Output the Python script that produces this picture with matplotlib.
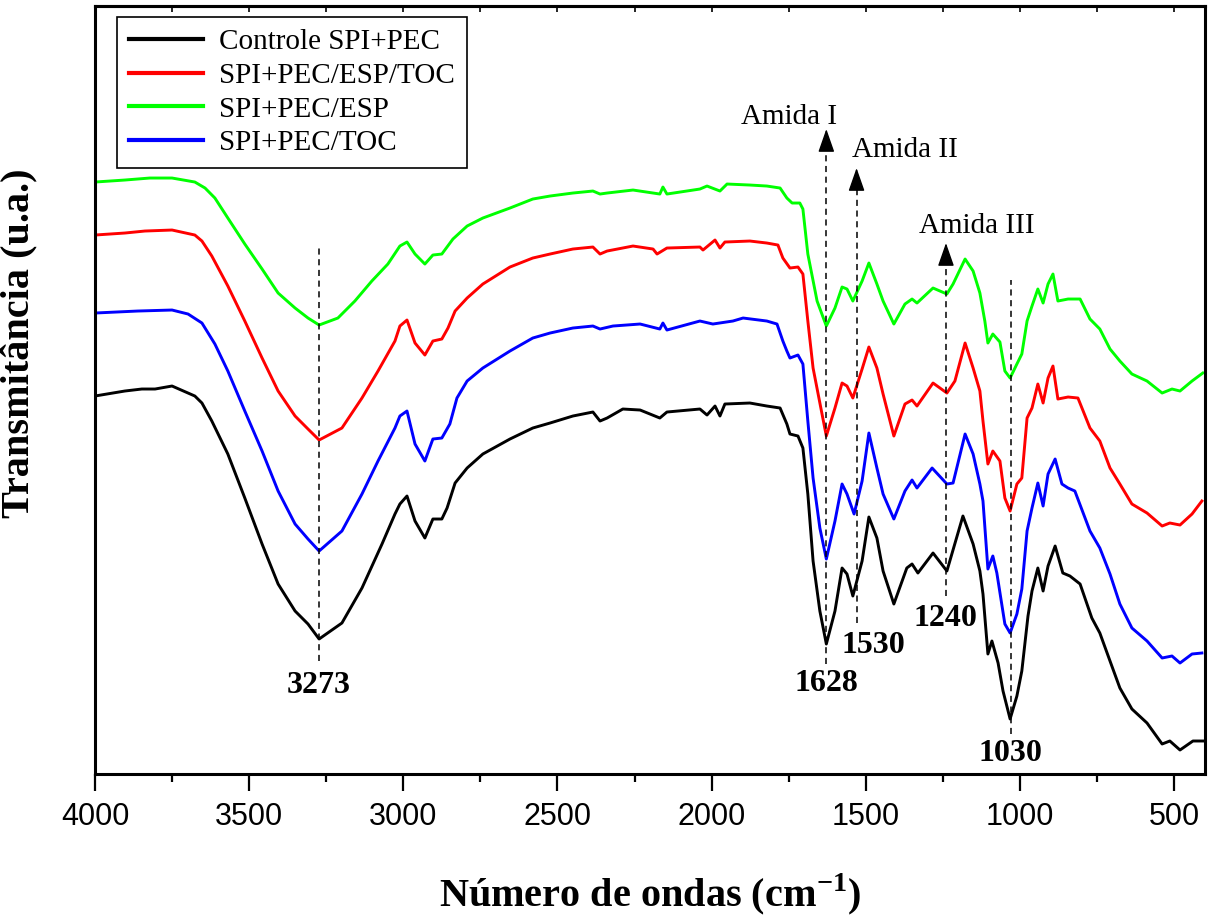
import matplotlib
matplotlib.use("Agg")
import matplotlib.pyplot as plt
from matplotlib.ticker import MultipleLocator

plt.rcParams['font.family'] = ['Liberation Serif', 'DejaVu Serif']
plt.rcParams['mathtext.fontset'] = 'custom'
plt.rcParams['mathtext.rm'] = 'Liberation Serif'
plt.rcParams['mathtext.bf'] = 'Liberation Serif:bold'

# ---------------- data (wavenumber cm-1, transmittance a.u.) ----------------
wn_black = [4000, 3903, 3848, 3805, 3750, 3676, 3653, 3621, 3569, 3514, 3458, 3406, 3351, 3309, 3273,
            3199, 3134, 3069, 3027, 3011, 2988, 2962, 2930, 2904, 2875, 2858, 2832, 2793, 2742, 2654,
            2580, 2524, 2450, 2385, 2362, 2339, 2288, 2232, 2168, 2145, 2038, 2015, 1989, 1973, 1957,
            1876, 1821, 1778, 1756, 1746, 1720, 1704, 1688, 1671, 1649, 1628, 1600, 1577, 1561, 1542,
            1512, 1490, 1464, 1444, 1409, 1367, 1350, 1331, 1282, 1237, 1185, 1152, 1130, 1120, 1104,
            1091, 1071, 1055, 1032, 1010, 994, 974, 961, 942, 925, 909, 886, 861, 838, 805,
            767, 741, 708, 676, 637, 588, 539, 514, 481, 439, 406]
t_black = [3.78, 3.83, 3.85, 3.85, 3.88, 3.78, 3.71, 3.53, 3.20, 2.76, 2.30, 1.90, 1.63, 1.50, 1.35,
           1.51, 1.86, 2.30, 2.60, 2.70, 2.78, 2.53, 2.36, 2.55, 2.55, 2.66, 2.91, 3.06, 3.20, 3.35,
           3.46, 3.51, 3.58, 3.62, 3.53, 3.56, 3.65, 3.64, 3.56, 3.62, 3.65, 3.59, 3.68, 3.58, 3.70,
           3.71, 3.68, 3.66, 3.50, 3.40, 3.38, 3.26, 2.80, 2.13, 1.63, 1.30, 1.63, 2.06, 2.00, 1.78,
           2.13, 2.57, 2.36, 2.03, 1.70, 2.06, 2.10, 2.01, 2.21, 2.03, 2.58, 2.30, 2.03, 1.80, 1.20,
           1.33, 1.11, 0.83, 0.55, 0.78, 1.03, 1.58, 1.83, 2.06, 1.83, 2.08, 2.28, 2.01, 1.98, 1.90,
           1.56, 1.41, 1.13, 0.86, 0.65, 0.51, 0.30, 0.33, 0.24, 0.33, 0.33]

wn_red = [4000, 3903, 3838, 3750, 3676, 3653, 3621, 3569, 3514, 3458, 3406, 3351, 3309, 3273, 3199,
          3134, 3082, 3027, 3011, 2988, 2962, 2930, 2904, 2875, 2855, 2832, 2793, 2742, 2654, 2580,
          2524, 2450, 2385, 2362, 2339, 2255, 2190, 2177, 2145, 2038, 2028, 1989, 1973, 1957, 1876,
          1821, 1785, 1769, 1746, 1720, 1704, 1688, 1671, 1642, 1628, 1600, 1577, 1561, 1542, 1512,
          1490, 1464, 1444, 1409, 1373, 1350, 1334, 1282, 1237, 1211, 1178, 1152, 1130, 1120, 1104,
          1088, 1065, 1049, 1032, 1010, 994, 977, 961, 942, 925, 909, 893, 877, 844, 812,
          773, 741, 708, 676, 637, 588, 539, 514, 481, 442, 410]
t_red = [5.39, 5.41, 5.43, 5.44, 5.39, 5.33, 5.18, 4.88, 4.53, 4.16, 3.83, 3.58, 3.45, 3.34, 3.46,
         3.76, 4.03, 4.33, 4.48, 4.54, 4.31, 4.19, 4.33, 4.35, 4.46, 4.63, 4.76, 4.90, 5.07, 5.16,
         5.20, 5.25, 5.27, 5.20, 5.23, 5.28, 5.25, 5.20, 5.26, 5.27, 5.24, 5.34, 5.26, 5.32, 5.33,
         5.31, 5.29, 5.16, 5.06, 5.07, 5.00, 4.53, 4.06, 3.60, 3.38, 3.66, 3.91, 3.88, 3.76, 4.05,
         4.27, 4.06, 3.80, 3.38, 3.70, 3.74, 3.68, 3.91, 3.81, 3.93, 4.31, 4.06, 3.83, 3.53, 3.10,
         3.23, 3.13, 2.76, 2.63, 2.90, 2.96, 3.56, 3.66, 3.90, 3.71, 3.96, 4.08, 3.75, 3.77, 3.76,
         3.46, 3.33, 3.06, 2.90, 2.70, 2.61, 2.48, 2.51, 2.49, 2.60, 2.73]

wn_green = [4000, 3903, 3822, 3750, 3676, 3643, 3611, 3569, 3514, 3458, 3406, 3351, 3309, 3273, 3212,
            3157, 3102, 3050, 3011, 2988, 2962, 2930, 2904, 2875, 2839, 2793, 2742, 2654, 2580, 2524,
            2450, 2385, 2362, 2339, 2255, 2168, 2158, 2145, 2038, 2015, 1973, 1950, 1876, 1821, 1778,
            1756, 1739, 1714, 1704, 1688, 1658, 1628, 1600, 1577, 1561, 1542, 1512, 1490, 1464, 1444,
            1409, 1373, 1350, 1334, 1282, 1237, 1217, 1178, 1152, 1130, 1114, 1104, 1088, 1065, 1049,
            1032, 1010, 994, 977, 961, 942, 925, 909, 893, 877, 844, 805, 773, 741, 708,
            676, 637, 588, 539, 507, 481, 442, 407]
t_green = [5.92, 5.94, 5.96, 5.96, 5.92, 5.86, 5.76, 5.56, 5.30, 5.05, 4.81, 4.66, 4.56, 4.49, 4.56,
           4.73, 4.93, 5.10, 5.28, 5.32, 5.20, 5.10, 5.19, 5.20, 5.35, 5.48, 5.56, 5.66, 5.75, 5.78,
           5.81, 5.83, 5.80, 5.81, 5.84, 5.80, 5.87, 5.80, 5.85, 5.88, 5.83, 5.90, 5.89, 5.88, 5.86,
           5.76, 5.71, 5.71, 5.65, 5.20, 4.73, 4.48, 4.66, 4.87, 4.85, 4.73, 4.93, 5.11, 4.90, 4.73,
           4.50, 4.70, 4.75, 4.71, 4.86, 4.80, 4.90, 5.15, 5.03, 4.81, 4.53, 4.31, 4.40, 4.32, 4.03,
           3.96, 4.10, 4.20, 4.53, 4.68, 4.85, 4.71, 4.90, 5.00, 4.73, 4.75, 4.75, 4.55, 4.45, 4.25,
           4.13, 4.00, 3.93, 3.81, 3.85, 3.83, 3.93, 4.01]

wn_blue = [4000, 3861, 3750, 3698, 3653, 3611, 3569, 3514, 3458, 3406, 3351, 3309, 3273, 3199, 3134,
           3082, 3027, 3011, 2988, 2962, 2930, 2904, 2875, 2849, 2826, 2793, 2742, 2654, 2580, 2524,
           2450, 2385, 2362, 2320, 2232, 2168, 2158, 2145, 2038, 1996, 1931, 1898, 1821, 1788, 1769,
           1756, 1746, 1720, 1704, 1688, 1671, 1649, 1628, 1600, 1577, 1561, 1538, 1512, 1490, 1464,
           1444, 1409, 1373, 1350, 1334, 1285, 1237, 1217, 1178, 1152, 1130, 1120, 1104, 1088, 1075,
           1049, 1032, 1010, 994, 977, 961, 942, 925, 909, 886, 864, 844, 822, 773, 741,
           708, 676, 637, 588, 539, 507, 481, 442, 410]
t_blue = [4.61, 4.63, 4.64, 4.60, 4.51, 4.30, 4.03, 3.63, 3.23, 2.83, 2.50, 2.35, 2.23, 2.43, 2.80,
          3.13, 3.46, 3.58, 3.63, 3.30, 3.13, 3.35, 3.36, 3.50, 3.76, 3.93, 4.06, 4.23, 4.36, 4.41,
          4.46, 4.48, 4.45, 4.48, 4.50, 4.45, 4.51, 4.44, 4.53, 4.50, 4.53, 4.56, 4.53, 4.50, 4.33,
          4.23, 4.16, 4.19, 4.10, 3.53, 2.96, 2.46, 2.15, 2.53, 2.90, 2.80, 2.60, 2.93, 3.41, 3.06,
          2.80, 2.55, 2.83, 2.94, 2.86, 3.06, 2.90, 2.91, 3.40, 3.20, 2.90, 2.73, 2.05, 2.18, 2.01,
          1.50, 1.41, 1.60, 1.85, 2.43, 2.66, 2.91, 2.68, 3.00, 3.15, 2.90, 2.86, 2.83, 2.43, 2.26,
          2.00, 1.70, 1.46, 1.33, 1.16, 1.18, 1.11, 1.20, 1.21]

series_labels = ['Controle SPI+PEC', 'SPI+PEC/ESP/TOC', 'SPI+PEC/ESP', 'SPI+PEC/TOC']
series_colors = ['#000000', '#ff0000', '#00ff00', '#0000ff']

# peak markers: (wavenumber, dashed line bottom, dashed line top, arrow tip or None)
peak_wn = [3273, 1628, 1530, 1240, 1030]
peak_y0 = [1.13, 1.10, 1.51, 1.78, 0.40]
peak_y1 = [5.28, 6.25, 5.86, 5.11, 4.94]
peak_tip = [None, 6.45, 6.06, 5.31, None]
peak_labels = ['3273', '1628', '1530', '1240', '1030']
peak_label_x = [3273, 1629, 1474, 1243, 1032]
peak_label_y = [0.81, 0.83, 1.21, 1.48, 0.13]

band_labels = ['Amida I', 'Amida II', 'Amida III']
band_x = [1749, 1373, 1140]
band_y = [6.50, 6.17, 5.41]

# ---------------- figure ----------------
fig = plt.figure(figsize=(12.08, 9.15), dpi=100)
ax = fig.add_axes([0.0786, 0.1541, 0.9189, 0.8393])

for wn, t, lab, col in zip([wn_black, wn_red, wn_green, wn_blue],
                           [t_black, t_red, t_green, t_blue],
                           series_labels, series_colors):
    ax.plot(wn, t, color=col, lw=2.1, label=lab, solid_joinstyle='round')

for x, y0, y1, tip in zip(peak_wn, peak_y0, peak_y1, peak_tip):
    ax.plot([x, x], [y0, y1], color='k', lw=1.1, ls=(0, (4, 3)))
    if tip is not None:
        ax.annotate('', xy=(x, tip), xytext=(x, y1),
                    arrowprops=dict(arrowstyle='-|>,head_length=1.0,head_width=0.35',
                                    mutation_scale=14.4, color='k', lw=1.0,
                                    shrinkA=0, shrinkB=0))

for s, x, y in zip(peak_labels, peak_label_x, peak_label_y):
    ax.text(x, y, s, ha='center', va='baseline', fontsize=23, fontweight='bold')

for s, x, y in zip(band_labels, band_x, band_y):
    ax.text(x, y, s, ha='center', va='baseline', fontsize=21)

ax.set_xlim(4000, 400)
ax.set_ylim(0, 7.68)
ax.set_yticks([])
ax.xaxis.set_major_locator(MultipleLocator(500))
ax.xaxis.set_minor_locator(MultipleLocator(250))
ax.tick_params(axis='x', which='major', direction='out', length=12, width=1.6, pad=8,
               labelsize=22, labelfontfamily='Liberation Sans')
ax.tick_params(axis='x', which='minor', direction='out', length=6, width=1.6)
for sp in ax.spines.values():
    sp.set_linewidth(2.2)

top = ax.secondary_xaxis('top')
top.xaxis.set_major_locator(MultipleLocator(250))
top.tick_params(axis='x', direction='in', length=4, width=1.2, labeltop=False)
top.spines['top'].set_linewidth(2.2)

ax.set_xlabel(r'Número de ondas (cm$^{\mathbf{-1}}$)', fontsize=29, fontweight='bold')
ax.xaxis.label.set_verticalalignment('baseline')
ax.xaxis.set_label_coords(0.5, -0.172)
ax.set_ylabel('Transmitância (u.a.)', fontsize=29, fontweight='bold')
ax.yaxis.set_label_coords(-0.052, 0.561)

leg = ax.legend(loc='upper left', bbox_to_anchor=(0.0198, 0.9857), borderaxespad=0,
                fontsize=21, handlelength=2.55, handletextpad=0.55, labelspacing=0.25,
                borderpad=0.4, fancybox=False, framealpha=1, edgecolor='k')
leg.get_frame().set_linewidth(1.2)
for h in leg.get_lines():
    h.set_linewidth(3.0)

fig.savefig('out.png', dpi=100)
